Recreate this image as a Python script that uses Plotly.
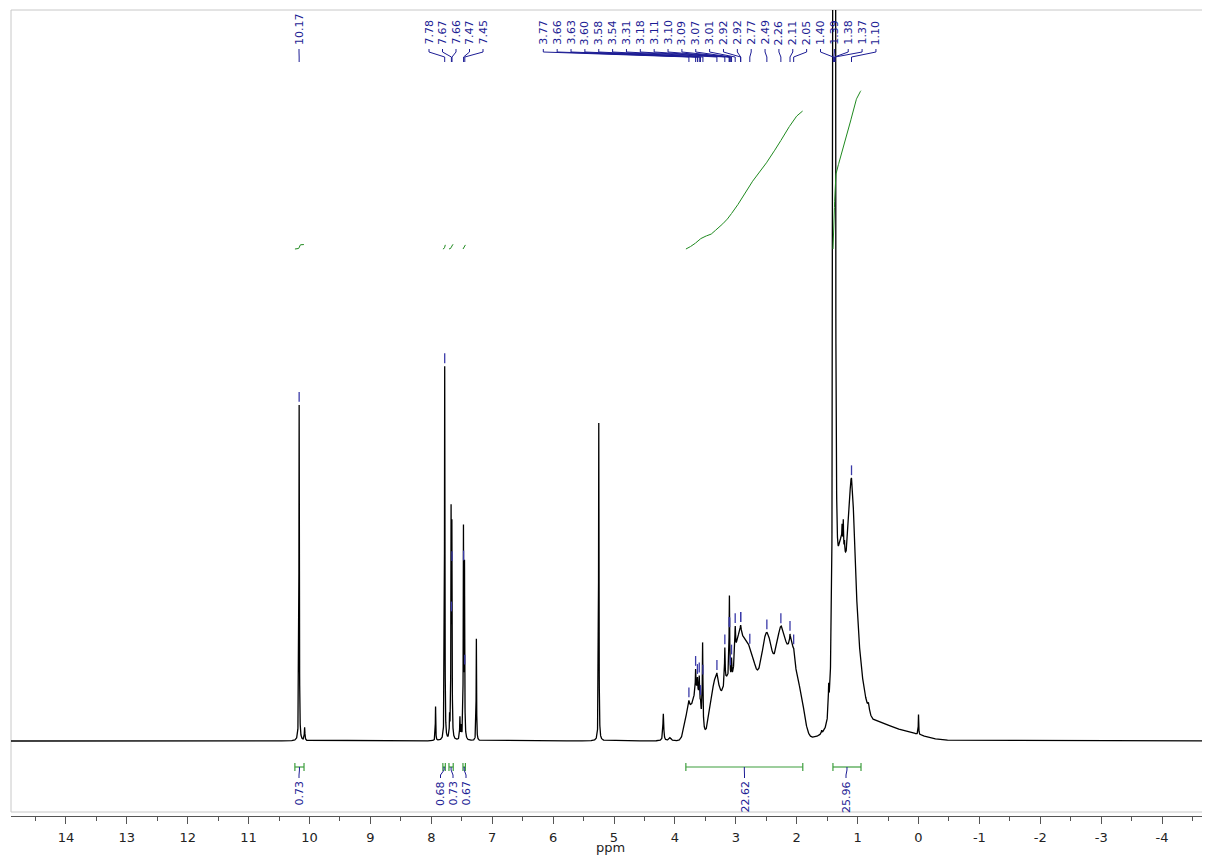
import numpy as np
import plotly.graph_objects as go

# ---------------- data ----------------
# Lorentzian lines: position (ppm), height (intensity units), half width (ppm)
lor_ppm = [10.17, 10.08, 7.93, 7.78, 7.70, 7.675, 7.662, 7.53, 7.51, 7.472, 7.455, 7.26,
           5.25, 4.19, 4.08, 3.77, 3.66, 3.63, 3.60, 3.58, 3.545, 3.31, 3.18, 3.105, 3.07,
           3.01, 2.92, 2.11, 2.05, 1.59, 1.475, 1.395, 1.375, 1.255, 1.235, 1.215, 1.10,
           0.82, 0.00]
lor_height = [336, 13, 34, 374, 20, 218, 202, 22, 12, 207, 170, 102,
              318, 27, 3, 6, 21, 12, 23, 8, 82, 6, 35, 85, 20,
              30, 8, 8, 5, 3, 25, 2000, 2000, 15, 25, 10, 150,
              8, 20]
lor_width = [0.004, 0.006, 0.004, 0.004, 0.004, 0.004, 0.004, 0.005, 0.005, 0.004, 0.004, 0.004,
             0.004, 0.008, 0.02, 0.01, 0.005, 0.005, 0.005, 0.005, 0.006, 0.01, 0.006, 0.006, 0.006,
             0.008, 0.01, 0.006, 0.006, 0.006, 0.006, 0.007, 0.007, 0.004, 0.004, 0.004, 0.07,
             0.015, 0.004]

# Broad (Gaussian) components of the humps
gau_ppm = [3.78, 3.64, 3.33, 3.15, 2.97, 2.78, 2.49, 2.25, 2.08, 1.95, 1.28, 1.10, 0.93, 0.70, 0.25]
gau_height = [30, 50, 62, 50, 75, 90, 100, 110, 70, 45, 150, 100, 22, 12, 8]
gau_sigma = [0.055, 0.06, 0.08, 0.06, 0.08, 0.12, 0.09, 0.09, 0.06, 0.07, 0.07, 0.09, 0.08, 0.22, 0.30]

# Peak labels (groups as printed at the top)
label_groups = [
    ["10.17"],
    ["7.78", "7.67", "7.66", "7.47", "7.45"],
    ["3.77", "3.66", "3.63", "3.60", "3.58", "3.54", "3.31", "3.18", "3.11", "3.10",
     "3.09", "3.07", "3.01", "2.92", "2.92", "2.77", "2.49", "2.26", "2.11", "2.05",
     "1.40", "1.39", "1.38", "1.37", "1.10"],
]

# Integrals
int_start = [10.24, 7.81, 7.71, 7.48, 3.82, 1.405]
int_end = [10.09, 7.77, 7.64, 7.44, 1.90, 0.944]
int_value = [0.73, 0.68, 0.73, 0.67, 22.62, 25.96]
int_text = ["0.73", "0.68", "0.73", "0.67", "22.62", "25.96"]

x_tick_vals = list(range(14, -5, -1))
x_tick_text = [str(v) for v in x_tick_vals]

# ---------------- layout constants ----------------
# (page is shown with an 8 px body margin, so the figure is 8 px smaller)
W, H = 1202, 848
PX0 = 918.5          # page pixel of 0 ppm
PXPPM = 60.9         # pixels per ppm
L_M, R_M, T_M, B_M = 3, 1, 2, 40
X_RANGE = [(PX0 - 11) / PXPPM, (PX0 - 1209) / PXPPM]
Y_RANGE = [-75, 731]  # baseline at 0


def px2ppm(px):
    return (PX0 - px) / PXPPM


label_group_start_px = [299, 429, 543.3]
label_group_step_px = [14, 13.5, 13.86]
int_label_px = [299, 440.5, 453, 466, 744.5, 846]

NAVY = "#1c1c94"
GREEN_CURVE = "#1f8a1f"
GREEN_BRACKET = "#3d9e3d"
FONT = "DejaVu Sans"

# ---------------- spectrum ----------------
ppm = np.arange(-4.80, 14.95, 0.001)
spec = np.zeros_like(ppm)
for p, h, w in zip(lor_ppm, lor_height, lor_width):
    spec += h / (1.0 + ((ppm - p) / w) ** 2)
for p, h, s in zip(gau_ppm, gau_height, gau_sigma):
    spec += h * np.exp(-0.5 * ((ppm - p) / s) ** 2)

fig = go.Figure()
fig.add_trace(go.Scatter(x=ppm, y=spec, mode="lines",
                         line=dict(color="black", width=1.3),
                         hoverinfo="skip", showlegend=False))

# ---------------- integral curves ----------------
INT_BASE = 492
INT_SCALE = 6.1
for a, b, v in zip(int_start, int_end, int_value):
    m = (ppm >= b) & (ppm <= a)
    xs = ppm[m][::-1]
    ys = spec[m][::-1]
    cum = np.concatenate([[0.0], np.cumsum(0.5 * (ys[1:] + ys[:-1]) * np.abs(np.diff(xs)))])
    curve = INT_BASE + cum / cum[-1] * v * INT_SCALE
    fig.add_trace(go.Scatter(x=xs[::3], y=curve[::3], mode="lines",
                             line=dict(color=GREEN_CURVE, width=1),
                             hoverinfo="skip", showlegend=False))

# ---------------- peak markers and labels ----------------
shapes = []
annotations = []
mk_x, mk_y = [], []
for grp, start, step in zip(label_groups, label_group_start_px, label_group_step_px):
    for i, t in enumerate(grp):
        p = float(t)
        lx = px2ppm(start + i * step)
        annotations.append(dict(x=lx, y=694, xref="x", yref="y", text=t, showarrow=False,
                                textangle=-90, xanchor="center", yanchor="bottom",
                                font=dict(family=FONT, size=11, color=NAVY)))
        shapes.append(dict(type="path", xref="x", yref="y",
                           path=f"M {lx},692 L {lx},689 L {p},684 L {p},679",
                           line=dict(color=NAVY, width=1)))
        mk_x.append(p)
        mk_y.append(float(np.interp(p, ppm, spec)) + 8)

fig.add_trace(go.Scatter(x=mk_x, y=mk_y, mode="markers",
                         marker=dict(symbol="line-ns-open", size=7, color="#3a3aa8",
                                     line=dict(color="#3a3aa8", width=1.3)),
                         hoverinfo="skip", showlegend=False))

# ---------------- integral brackets and labels ----------------
for a, b, t, lpx in zip(int_start, int_end, int_text, int_label_px):
    bc = 0.5 * (a + b)
    lx = px2ppm(lpx)
    shapes.append(dict(type="line", xref="x", yref="y", x0=a, x1=b, y0=-26, y1=-26,
                       line=dict(color=GREEN_BRACKET, width=1.2)))
    for e in (a, b):
        shapes.append(dict(type="line", xref="x", yref="y", x0=e, x1=e, y0=-22, y1=-30,
                           line=dict(color=GREEN_BRACKET, width=1.2)))
    shapes.append(dict(type="path", xref="x", yref="y",
                       path=f"M {bc},-26 L {bc},-29 L {lx},-34 L {lx},-37",
                       line=dict(color=NAVY, width=1)))
    annotations.append(dict(x=lx, y=-38, xref="x", yref="y", text=t, showarrow=False,
                            textangle=-90, xanchor="center", yanchor="top",
                            font=dict(family=FONT, size=11, color=NAVY)))

# frame
plot_w = W - L_M - R_M
plot_h = H - T_M - B_M
shapes.append(dict(type="rect", xref="paper", yref="paper",
                   x0=0, x1=(1208 - 11) / plot_w, y0=4 / plot_h, y1=1,
                   line=dict(color="#c8c8c8", width=1), fillcolor="rgba(0,0,0,0)",
                   layer="below"))

# axis title
annotations.append(dict(x=0.5, y=0, xref="paper", yref="paper", text="ppm",
                        showarrow=False, yshift=-31, yanchor="middle",
                        font=dict(family=FONT, size=13, color="#222222")))

fig.update_layout(
    width=W, height=H,
    margin=dict(l=L_M, r=R_M, t=T_M, b=B_M),
    paper_bgcolor="white", plot_bgcolor="white",
    showlegend=False,
    shapes=shapes, annotations=annotations,
    xaxis=dict(range=X_RANGE, tickmode="array", tickvals=x_tick_vals, ticktext=x_tick_text,
               ticks="outside", ticklen=7, tickcolor="#555555", tickwidth=1,
               showline=True, linecolor="#555555", linewidth=1,
               showgrid=False, zeroline=False, ticklabelstandoff=2,
               tickfont=dict(family=FONT, size=13, color="#222222"),
               minor=dict(tickmode="array", tickvals=[v + 0.5 for v in range(-5, 15)],
                          ticks="outside", ticklen=4, tickcolor="#555555", showgrid=False)),
    yaxis=dict(range=Y_RANGE, visible=False, showgrid=False, zeroline=False),
)

fig.write_html("out.html")
